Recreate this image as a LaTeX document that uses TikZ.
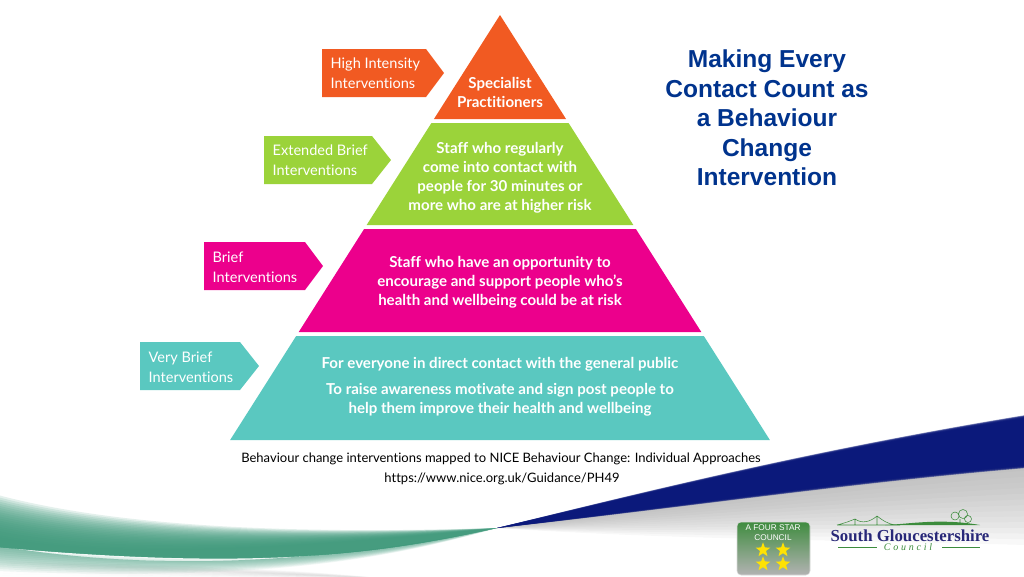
\documentclass[tikz,border=0pt]{standalone}
\usepackage{fontspec}
\setmainfont[Ligatures=NoCommon]{Lato}
\newfontfamily\titlefont{Liberation Sans}
\newfontfamily\logofont{Liberation Serif}
\usetikzlibrary{shapes.geometric}
\definecolor{tierorange}{RGB}{241,90,34}
\definecolor{tiergreen}{RGB}{155,211,58}
\definecolor{tierpink}{RGB}{236,0,140}
\definecolor{tierteal}{RGB}{90,200,192}
\definecolor{titleblue}{RGB}{0,51,141}
\definecolor{ribbonnavy}{RGB}{10,24,122}
\definecolor{ribbongreen}{RGB}{62,152,122}
\definecolor{logonavy}{RGB}{40,40,120}
\definecolor{logogreen}{RGB}{60,140,60}
\tikzset{
 tiertext/.style={white, align=center, font=\bfseries\fontsize{11.3}{14.2}\selectfont},
 sidetext/.style={white, align=left, anchor=west, font=\fontsize{10.9}{14.8}\selectfont},
 notetext/.style={black, font=\fontsize{9.75}{15}\selectfont},
 goldstar/.style={star, star points=5, star point ratio=2.4, fill=yellow!85!orange, minimum size=11.5pt, inner sep=0},
}
\begin{document}
\begin{tikzpicture}[x=.75pt,y=-.75pt]
\useasboundingbox (0,0) rectangle (1024,576);
\foreach \i in {0,...,14} {
 \pgfmathsetmacro\t{\i/14}
 \fill[black!35,opacity=.08] (497,528) .. controls (680,505) and (850,480) .. (1026,465) -- (1026,{465+80*\t}) .. controls (850,{480+60*\t}) and (680,{505+35*\t}) .. (497,528) -- cycle;
 \fill[black!30,opacity=.07] (-2,{578-16*\t}) .. controls (150,{578-14*\t}) and (280,{578-10*\t}) .. (380,578) -- cycle;
}
\foreach \i in {0,...,20} {
 \pgfmathsetmacro\t{\i/20}
 \fill[ribbongreen,opacity=.14] (-2,{495+42*\t}) .. controls (110,{525+33*\t}) and (280,{535+15*\t}) .. (497,528) .. controls (400,549) and (280,573) .. (-2,547) -- cycle;
}
\foreach \i in {0,...,12} {
 \pgfmathsetmacro\t{\i/12}
 \fill[ribbongreen,opacity=.08] (-2,546) .. controls (120,566) and (280,572) .. (497,528) .. controls (400,{549+6*\t}) and (280,{573+10*\t}) .. (-2,{547+24*\t}) -- cycle;
}
\foreach \i in {0,...,6} {
 \fill[ribbonnavy,opacity=.5] (497,528) .. controls (620,{498+\i*.4}) and (800,{452+\i*.4}) .. (1026,{415+\i*.5}) -- (1026,{468-\i*.5}) .. controls (850,{483-\i*.5}) and (680,{508-\i*.5}) .. (497,528) -- cycle;
}
\foreach \ya/\yb/\col in {15/119/tierorange,123/225/tiergreen,229/332/tierpink,336/440/tierteal} {
 \fill[\col] ({500-.635*(\ya-15)},\ya) -- ({500+.635*(\ya-15)},\ya) -- ({500+.635*(\yb-15)},\yb) -- ({500-.635*(\yb-15)},\yb) -- cycle;
}
\foreach \xa/\xb/\xc/\ya/\col in {322/426/444/49/tierorange,264/372/391/136/tiergreen,204/305/323/242/tierpink,140/240/259/342/tierteal} {
 \fill[\col] (\xa,\ya) -- (\xb,\ya) -- (\xc,\ya+24) -- (\xb,\ya+48) -- (\xa,\ya+48) -- cycle;
}
\node[tiertext] (specialist) at (500,92) {Specialist\\Practitioners};
\node[tiertext] (regular) at (500,178) {Staff who regularly\\come into contact with\\people for 30 minutes or\\more who are at higher risk};
\node[tiertext] (opportunity) at (500,282) {Staff who have an opportunity to\\encourage and support people who’s\\health and wellbeing could be at risk};
\node[tiertext] (everyone) at (500,364) {For everyone in direct contact with the general public};
\node[tiertext] (awareness) at (500,400) {To raise awareness motivate and sign post people to\\help them improve their health and wellbeing};
\node[sidetext] (high) at (326,73) {High Intensity\\Interventions};
\node[sidetext] (extended) at (268,160) {Extended Brief\\Interventions};
\node[sidetext] (brief) at (208,267) {Brief\\Interventions};
\node[sidetext] (verybrief) at (144,367) {Very Brief\\Interventions};
\node[text=titleblue, align=center, font=\titlefont\bfseries\fontsize{18.4}{22.1}\selectfont] (title) at (767,118) {Making Every\\Contact Count as\\a Behaviour\\Change\\Intervention};
\node[notetext] (note) at (501,459) {Behaviour change interventions mapped to NICE Behaviour Change: Individual Approaches};
\node[notetext] (link) at (502,479) {https://www.nice.org.uk/Guidance/PH49};
\shade[top color=green!40!black!75,bottom color=black!30,draw=black!15,rounded corners=3pt] (737,522) rectangle (810,575);
\node[white, align=center, inner sep=0, font=\titlefont\fontsize{6.2}{7.4}\selectfont] (badge) at (773,533) {A FOUR STAR\\COUNCIL};
\node[goldstar] (stara) at (763,550) {};
\node[goldstar] (starb) at (783,550) {};
\node[goldstar] (starc) at (763,564) {};
\node[goldstar] (stard) at (783,564) {};
\node[text=logonavy, inner sep=0, text height=8.5pt, text depth=0pt, font=\logofont\bfseries\fontsize{12.6}{14}\selectfont] (logo) at (910,535.5) {South Gloucestershire};
\node[text=logogreen, inner sep=0, text height=5pt, text depth=0pt, font=\logofont\itshape\fontsize{7.5}{8}\selectfont] (council) at (908,547.5) {C\;o\;u\;n\;c\;i\;l};
\draw[logogreen,thin] (838,547) -- (877,547) (942,547) -- (980,547);
\fill[logogreen] (885,525) .. controls (910,524) and (940,518) .. (980,525) -- cycle;
\draw[logogreen,thin] (837,525) -- (900,525) (855,519) -- (855,525) (877,516) -- (877,525) (837,525) .. controls (845,523) and (850,521) .. (855,519) .. controls (862,524) and (870,522) .. (877,516) .. controls (882,520) and (888,524) .. (895,525);
\draw[logogreen,thin] (955,516) circle (4) (963,514) circle (4.5) (968,519) circle (3.5) (960,519) -- (960,524);
\end{tikzpicture}
\end{document}
